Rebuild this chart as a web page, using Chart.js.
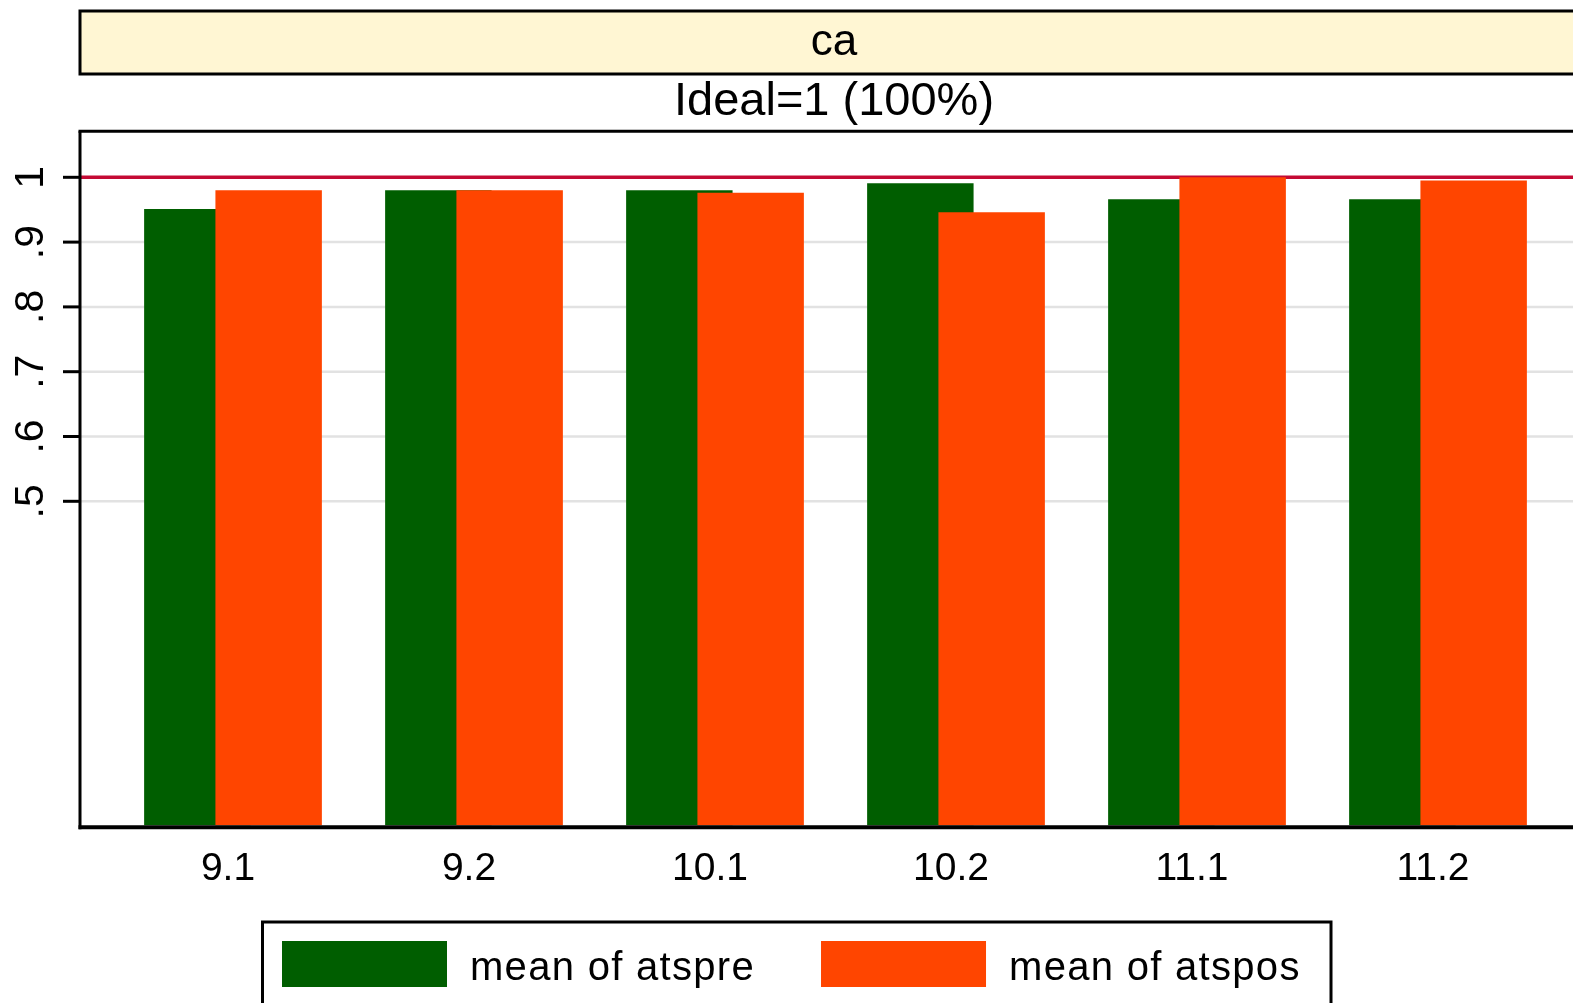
<!DOCTYPE html>
<html><head><meta charset="utf-8">
<script src="https://cdn.jsdelivr.net/npm/chart.js@4.4.1/dist/chart.umd.min.js"></script>
<style>html,body{margin:0;padding:0;background:#fff;overflow:hidden}canvas{display:block}</style>
</head><body>
<canvas id="c" width="1573" height="1003"></canvas>
<script>
const categories = ['9.1', '9.2', '10.1', '10.2', '11.1', '11.2'];
const atspre = [0.951, 0.980, 0.980, 0.991, 0.966, 0.966];
const atspos = [0.980, 0.980, 0.976, 0.946, 1.000, 0.995];
const seriesLabels = ['mean of atspre', 'mean of atspos'];
const yTickValues = [0.5, 0.6, 0.7, 0.8, 0.9, 1];
const yTickLabels = ['.5', '.6', '.7', '.8', '.9', '1'];
const idealValue = 1;
const stripLabel = 'ca';
const subtitleText = 'Ideal=1 (100%)';

const GREEN = '#005e00', ORANGE = '#ff4500', RED = '#c40a34', GRID = '#e2e2e2', STRIP = '#fff6d3';
const FONT = '"Liberation Sans", Arial, Helvetica, sans-serif';
Chart.defaults.font.family = FONT;
Chart.defaults.color = '#000';

const stataPlugin = {
  id: 'stata',
  beforeDatasetsDraw(chart) {
    const {ctx, scales: {y}} = chart;
    const left = 80, right = chart.width + 20;
    ctx.save();
    ctx.lineWidth = 2.5; ctx.strokeStyle = GRID;
    yTickValues.forEach(v => {
      if (v === idealValue) return;
      const py = y.getPixelForValue(v);
      ctx.beginPath(); ctx.moveTo(left, py); ctx.lineTo(right, py); ctx.stroke();
    });
    const ry = y.getPixelForValue(idealValue);
    ctx.strokeStyle = RED; ctx.lineWidth = 3.5;
    ctx.beginPath(); ctx.moveTo(left, ry); ctx.lineTo(right, ry); ctx.stroke();
    ctx.restore();
    // draw datasets in index order so the right-hand (later) bars overlap the left ones
    chart.getSortedVisibleDatasetMetas().forEach(m => m.controller.draw());
    return false;
  },
  afterDraw(chart) {
    const {ctx, scales: {y}} = chart;
    const right = chart.width + 20;
    const y0 = y.getPixelForValue(0);
    const frameTop = y.getPixelForValue(1) - 46;
    ctx.save();
    ctx.strokeStyle = '#000';
    // x axis line
    ctx.lineWidth = 4;
    ctx.beginPath(); ctx.moveTo(78.5, y0 + 2); ctx.lineTo(right, y0 + 2); ctx.stroke();
    // frame left / top
    ctx.lineWidth = 3;
    ctx.beginPath(); ctx.moveTo(80, frameTop); ctx.lineTo(80, y0 + 4); ctx.stroke();
    ctx.beginPath(); ctx.moveTo(78.5, frameTop); ctx.lineTo(right, frameTop); ctx.stroke();
    // y tick marks
    yTickValues.forEach(v => {
      const py = y.getPixelForValue(v);
      ctx.beginPath(); ctx.moveTo(63, py); ctx.lineTo(80, py); ctx.stroke();
    });
    // strip
    ctx.fillStyle = STRIP;
    ctx.fillRect(80, 11, right - 80, 63);
    ctx.strokeRect(80, 11, right - 80, 63);
    ctx.fillStyle = '#000';
    ctx.textAlign = 'center'; ctx.textBaseline = 'alphabetic';
    ctx.font = '44px ' + FONT;
    ctx.fillText(stripLabel, 834, 55);
    ctx.font = '47px ' + FONT;
    ctx.fillText(subtitleText, 834, 115);
    // legend
    ctx.lineWidth = 3;
    ctx.strokeRect(262.5, 922, 1068.5, 100);
    ctx.font = '40px ' + FONT;
    try { ctx.letterSpacing = '1.3px'; } catch (e) {}
    ctx.textAlign = 'left';
    let x = 282;
    chart.data.datasets.forEach(ds => {
      ctx.fillStyle = ds.backgroundColor;
      ctx.fillRect(x, 941, 165, 46);
      ctx.fillStyle = '#000';
      const tx = x + 165 + 23;
      ctx.fillText(ds.label, tx, 979.5);
      x = tx + ctx.measureText(ds.label).width + 66;
    });
    ctx.restore();
  }
};

new Chart(document.getElementById('c'), {
  type: 'bar',
  data: {
    labels: categories,
    datasets: [
      {label: seriesLabels[0], data: atspre, backgroundColor: GREEN, borderWidth: 0,
       categoryPercentage: 0.5917, barPercentage: 1.493},
      {label: seriesLabels[1], data: atspos, backgroundColor: ORANGE, borderWidth: 0,
       categoryPercentage: 0.5917, barPercentage: 1.493}
    ]
  },
  options: {
    responsive: false,
    animation: false,
    layout: {padding: {top: 177.3, right: 14.5, left: 0, bottom: 0}},
    plugins: {legend: {display: false}, tooltip: {enabled: false}, title: {display: false}},
    scales: {
      x: {
        afterFit: s => { s.height = 177.7; },
        grid: {display: false, drawTicks: false},
        border: {display: false},
        ticks: {padding: 21, labelOffset: -5, color: '#000', font: {size: 39}, maxRotation: 0, autoSkip: false}
      },
      y: {
        min: 0, max: 1,
        afterBuildTicks: s => { s.ticks = yTickValues.map(v => ({value: v})); },
        afterFit: s => { s.width = 112.5; },
        grid: {display: false, drawTicks: false},
        border: {display: false},
        ticks: {minRotation: 90, maxRotation: 90, crossAlign: 'center', padding: 64,
                color: '#000', font: {size: 41},
                callback: (v, i) => yTickLabels[i]}
      }
    }
  },
  plugins: [stataPlugin]
});
</script>
</body></html>
